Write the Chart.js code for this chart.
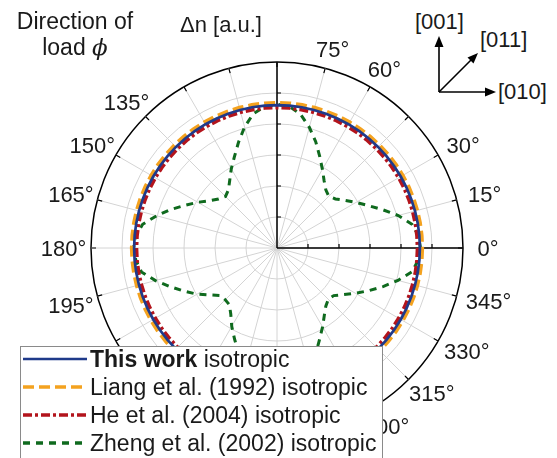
<!DOCTYPE html>
<html><head><meta charset="utf-8">
<script src="https://cdn.jsdelivr.net/npm/chart.js@4.4.1/dist/chart.umd.min.js"></script>
<style>
html,body{margin:0;padding:0;background:#fff;}
#wrap{position:relative;width:557px;height:458px;overflow:hidden;font-family:"Liberation Sans",Arial,sans-serif;color:#1a1a1a;}
canvas{position:absolute;left:0;top:0;}
.t{position:absolute;white-space:nowrap;line-height:1;}
.row{position:absolute;left:23px;height:28px;line-height:28px;font-size:23px;white-space:nowrap;}
.row svg{vertical-align:middle;margin-right:3px;position:relative;top:-2px;}
</style></head><body>
<div id="wrap">
<canvas id="c" width="557" height="458"></canvas>
<div class="t" style="left:0;width:150px;text-align:center;top:8px;font-size:23px;line-height:26px;">Direction of<br>load <i style="font-family:'DejaVu Serif',serif;">ϕ</i></div>
<div class="t" style="left:180px;top:14px;font-size:22px;">Δn [a.u.]</div>
<div style="position:absolute;left:405px;top:0;width:152px;height:110px;background:#fff;"></div>
<svg style="position:absolute;left:0;top:0;" width="557" height="458">
  <g stroke="#000" stroke-width="1.6" fill="none">
    <line x1="439" y1="92" x2="439" y2="44"/>
    <line x1="439" y1="92" x2="488" y2="92"/>
    <line x1="439" y1="92" x2="472" y2="59"/>
  </g>
  <g fill="#000">
    <polygon points="439,36 434.5,47 443.5,47"/>
    <polygon points="496,92 485,87.5 485,96.5"/>
    <polygon points="478,53 467.5,57.5 473.5,63.5"/>
  </g>
</svg>
<div class="t" style="left:415px;top:11px;font-size:22px;">[001]</div>
<div class="t" style="left:480px;top:29px;font-size:22px;">[011]</div>
<div class="t" style="left:498px;top:81px;font-size:22px;">[010]</div>
<div style="position:absolute;left:20px;top:346px;width:363px;height:130px;box-sizing:border-box;border:1.5px solid #8a8a8a;background:#fff;"></div>
<div class="row" style="top:345px;"><svg width="64" height="10"><line x1="0" y1="5" x2="64" y2="5" stroke="#1f3a8a" stroke-width="2.5"/></svg><b>This work</b> isotropic</div>
<div class="row" style="top:373px;"><svg width="64" height="10"><line x1="0" y1="5" x2="64" y2="5" stroke="#f4a21f" stroke-width="3.5" stroke-dasharray="11,5"/></svg>Liang et al. (1992) isotropic</div>
<div class="row" style="top:401px;"><svg width="64" height="10"><line x1="0" y1="5" x2="64" y2="5" stroke="#b3141c" stroke-width="3.5" stroke-dasharray="9,3,3,3"/></svg>He et al. (2004) isotropic</div>
<div class="row" style="top:429px;"><svg width="64" height="10"><line x1="0" y1="5" x2="64" y2="5" stroke="#0f6a1e" stroke-width="3.5" stroke-dasharray="7,6"/></svg>Zheng et al. (2002) isotropic</div>
</div>
<script>
// Angle of load (degrees, counter-clockwise from [010]) at which values were read
const angles = [0,5,10,15,20,25,30,35,40,45,50,55,60,65,70,75,80,85,
  90,95,100,105,110,115,120,125,130,135,140,145,150,155,160,165,170,175,
  180,185,190,195,200,205,210,215,220,225,230,235,240,245,250,255,260,265,
  270,275,280,285,290,295,300,305,310,315,320,325,330,335,340,345,350,355];

// Δn [a.u.] series
const thisWork = [4.61,4.61,4.61,4.61,4.61,4.61,4.61,4.61,4.61,4.61,4.61,4.61,4.61,4.61,4.61,4.61,4.61,4.61,
  4.61,4.61,4.61,4.61,4.61,4.61,4.61,4.61,4.61,4.61,4.61,4.61,4.61,4.61,4.61,4.61,4.61,4.61,
  4.61,4.61,4.61,4.61,4.61,4.61,4.61,4.61,4.61,4.61,4.61,4.61,4.61,4.61,4.61,4.61,4.61,4.61,
  4.61,4.61,4.61,4.61,4.61,4.61,4.61,4.61,4.61,4.61,4.61,4.61,4.61,4.61,4.61,4.61,4.61,4.61];
const liang1992 = [4.69,4.69,4.69,4.69,4.69,4.69,4.69,4.69,4.69,4.69,4.69,4.69,4.69,4.69,4.69,4.69,4.69,4.69,
  4.69,4.69,4.69,4.69,4.69,4.69,4.69,4.69,4.69,4.69,4.69,4.69,4.69,4.69,4.69,4.69,4.69,4.69,
  4.69,4.69,4.69,4.69,4.69,4.69,4.69,4.69,4.69,4.69,4.69,4.69,4.69,4.69,4.69,4.69,4.69,4.69,
  4.69,4.69,4.69,4.69,4.69,4.69,4.69,4.69,4.69,4.69,4.69,4.69,4.69,4.69,4.69,4.69,4.69,4.69];
const he2004 = [4.53,4.53,4.53,4.53,4.53,4.53,4.53,4.53,4.53,4.53,4.53,4.53,4.53,4.53,4.53,4.53,4.53,4.53,
  4.53,4.53,4.53,4.53,4.53,4.53,4.53,4.53,4.53,4.53,4.53,4.53,4.53,4.53,4.53,4.53,4.53,4.53,
  4.53,4.53,4.53,4.53,4.53,4.53,4.53,4.53,4.53,4.53,4.53,4.53,4.53,4.53,4.53,4.53,4.53,4.53,
  4.53,4.53,4.53,4.53,4.53,4.53,4.53,4.53,4.53,4.53,4.53,4.53,4.53,4.53,4.53,4.53,4.53,4.53];
const zheng2002 = [4.63,4.58,4.42,4.05,3.62,3.24,2.94,2.68,2.46,2.36,2.45,2.65,2.93,3.26,3.65,4.03,4.38,4.58,
  4.64,4.58,4.40,4.04,3.63,3.25,2.95,2.66,2.44,2.35,2.46,2.66,2.95,3.26,3.64,4.02,4.40,4.57,
  4.63,4.57,4.44,4.06,3.66,3.30,2.98,2.64,2.39,2.36,2.39,2.60,2.92,3.24,3.62,4.02,4.38,4.58,
  4.64,4.58,4.39,4.03,3.64,3.25,2.94,2.66,2.45,2.34,2.39,2.62,2.92,3.26,3.64,4.04,4.42,4.57];

// Tick definitions
const angleTicks = [0,15,30,45,60,75,90,105,120,135,150,165,180,195,210,225,240,255,270,285,300,315,330,345];
const angleTickLabels = ['0°','15°','30°','','60°','75°','','','','135°','150°','165°','180°','195°','210°','225°','240°','255°','270°','285°','300°','315°','330°','345°'];
const ringTicks = [1,2,3,4,5];
const rMin = 0, rMax = 6;

// Radar scale runs clockwise; reorder so angle increases counter-clockwise
const n = angles.length;
const order = angles.map((_, i) => (n - i) % n);
const labels = order.map(k => String(angles[k]));
const pick = arr => order.map(k => arr[k]);
const stepDeg = 360 / n;
const idxOf = a => Math.round(((360 - a) % 360) / stepDeg) % n;
const tickSet = new Set(angleTicks);

const polarExtras = {
  id: 'polarExtras',
  beforeDatasetsDraw(chart) {
    const s = chart.scales.r, ctx = chart.ctx;
    const R = s.drawingArea, cx = s.xCenter, cy = s.yCenter;
    ctx.save();
    ctx.strokeStyle = '#000';
    ctx.lineWidth = 1.5;
    ctx.beginPath();
    [0, 90].forEach(a => { const p = s.getPointPosition(idxOf(a), R); ctx.moveTo(cx, cy); ctx.lineTo(p.x, p.y); });
    ctx.stroke();
    ctx.lineWidth = 1.2;
    ctx.beginPath();
    ringTicks.forEach(v => {
      const d = s.getDistanceFromCenterForValue(v);
      ctx.moveTo(cx + d, cy); ctx.lineTo(cx + d, cy - 4);
      ctx.moveTo(cx, cy - d); ctx.lineTo(cx + 4, cy - d);
    });
    angleTicks.forEach(a => {
      const p1 = s.getPointPosition(idxOf(a), R), p2 = s.getPointPosition(idxOf(a), R - 5);
      ctx.moveTo(p1.x, p1.y); ctx.lineTo(p2.x, p2.y);
    });
    ctx.stroke();
    ctx.restore();
  },
  afterDraw(chart) {
    const s = chart.scales.r, ctx = chart.ctx;
    const R = s.drawingArea, cx = s.xCenter, cy = s.yCenter;
    ctx.save();
    ctx.font = '22px "Liberation Sans", Arial, sans-serif';
    ctx.fillStyle = '#1a1a1a';
    ctx.textAlign = 'center';
    ctx.textBaseline = 'middle';
    angleTicks.forEach((a, j) => {
      const txt = angleTickLabels[j];
      if (!txt) return;
      const u = s.getPointPosition(idxOf(a), 1);
      const ux = u.x - cx, uy = u.y - cy;
      const w = ctx.measureText(txt).width;
      const p = s.getPointPosition(idxOf(a), R + 18);
      const kx = ux < 0 ? 0.24 : 0.33;
      const dy = (ux < 0 && uy > 0.1) ? 4.5 : 0;
      ctx.fillText(txt, p.x + kx * w * ux + (ux < 0 ? 1.5 : 0), p.y + 2 * uy + 1.5 + dy);
    });
    ctx.restore();
  }
};

new Chart(document.getElementById('c'), {
  type: 'radar',
  data: {
    labels: labels,
    datasets: [
      { label: 'This work isotropic', data: pick(thisWork), borderColor: '#1f3a8a', borderWidth: 2.7, fill: false },
      { label: 'Liang et al. (1992) isotropic', data: pick(liang1992), borderColor: '#f4a21f', borderWidth: 3.5, borderDash: [11, 5], fill: false },
      { label: 'He et al. (2004) isotropic', data: pick(he2004), borderColor: '#b3141c', borderWidth: 3.5, borderDash: [9, 3, 3, 3], fill: false },
      { label: 'Zheng et al. (2002) isotropic', data: pick(zheng2002), borderColor: '#0f6a1e', borderWidth: 3, borderDash: [7, 6], fill: false }
    ]
  },
  options: {
    responsive: false,
    animation: false,
    layout: { padding: { left: 91, right: 94, top: 62, bottom: 24 } },
    elements: { point: { radius: 0, hoverRadius: 0 }, line: { tension: 0 } },
    plugins: { legend: { display: false }, tooltip: { enabled: false } },
    scales: {
      r: {
        min: rMin, max: rMax, startAngle: 90,
        ticks: { display: false, stepSize: 1 },
        pointLabels: { display: false },
        grid: {
          circular: true,
          color: ctx => ctx.tick && ctx.tick.value === rMax ? '#000' : '#d4d4d4',
          lineWidth: ctx => ctx.tick && ctx.tick.value === rMax ? 1.5 : 1
        },
        angleLines: {
          color: ctx => tickSet.has(Number(ctx.label)) ? '#d4d4d4' : 'rgba(0,0,0,0)',
          lineWidth: ctx => tickSet.has(Number(ctx.label)) ? 1 : 0
        }
      }
    }
  },
  plugins: [polarExtras]
});
</script>
</body></html>
